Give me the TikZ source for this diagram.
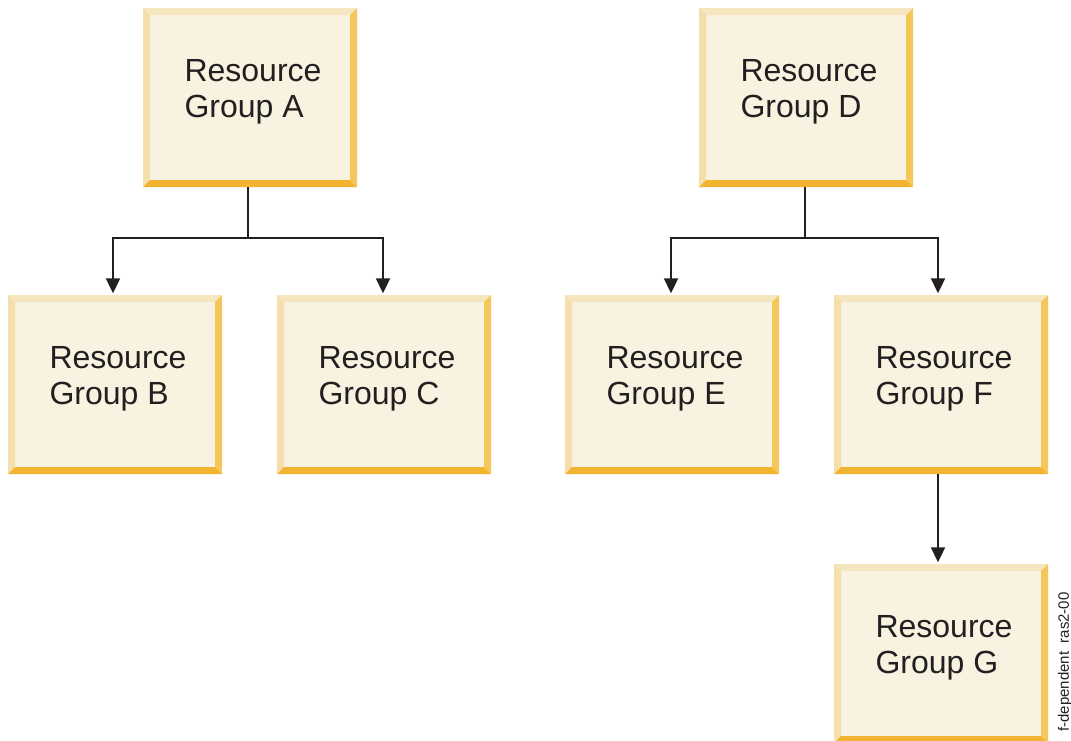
\documentclass[tikz,border=0pt]{standalone}
\usepackage{fontspec}
\setmainfont{Liberation Sans}
\usetikzlibrary{arrows.meta}
\definecolor{face}{HTML}{F8F2E1}
\definecolor{bvtop}{HTML}{F5E6C0}
\definecolor{bvleft}{HTML}{F4DFAA}
\definecolor{bvright}{HTML}{F5C75A}
\definecolor{bvbot}{HTML}{F2B430}
\definecolor{ink}{HTML}{231F20}
\tikzset{
  rg/.style={minimum width=214pt, minimum height=179pt, inner sep=0pt, fill=face,
    path picture={
      \coordinate (nw) at (path picture bounding box.north west);
      \coordinate (ne) at (path picture bounding box.north east);
      \coordinate (sw) at (path picture bounding box.south west);
      \coordinate (se) at (path picture bounding box.south east);
      \fill[bvtop] (nw) -- (ne) -- ([shift={(-7pt,-7pt)}]ne) -- ([shift={(7pt,-7pt)}]nw) -- cycle;
      \fill[bvleft] (nw) -- ([shift={(7pt,-7pt)}]nw) -- ([shift={(7pt,7pt)}]sw) -- (sw) -- cycle;
      \fill[bvright] (ne) -- (se) -- ([shift={(-7pt,7pt)}]se) -- ([shift={(-7pt,-7pt)}]ne) -- cycle;
      \fill[bvbot] (sw) -- (se) -- ([shift={(-7pt,7pt)}]se) -- ([shift={(7pt,7pt)}]sw) -- cycle;
    }},
  lbl/.style={inner sep=0pt, align=left, text=ink, font=\fontsize{32}{36}\selectfont},
  conn/.style={draw=ink, line width=2pt},
  arr/.style={conn, -{Triangle[length=15pt,width=14pt]}, shorten >=1.5pt},
}
\begin{document}
\begin{tikzpicture}[x=1pt,y=-1pt]
\useasboundingbox (0,0) rectangle (1071,740);
\node[rg] (A) at (250,97.5) {};
\node[rg] (D) at (806,97.5) {};
\node[rg] (B) at (115,384.5) {};
\node[rg] (C) at (384,384.5) {};
\node[rg] (E) at (672,384.5) {};
\node[rg] (F) at (941,384.5) {};
\node[rg] (G) at (941,653.5) {};
\node[lbl] (tA) at ([shift={(3pt,6pt)}]A.center) {Resource\\Group A};
\node[lbl] (tD) at ([shift={(3pt,6pt)}]D.center) {Resource\\Group D};
\node[lbl] (tB) at ([shift={(3pt,6pt)}]B.center) {Resource\\Group B};
\node[lbl] (tC) at ([shift={(3pt,6pt)}]C.center) {Resource\\Group C};
\node[lbl] (tE) at ([shift={(3pt,6pt)}]E.center) {Resource\\Group E};
\node[lbl] (tF) at ([shift={(3pt,6pt)}]F.center) {Resource\\Group F};
\node[lbl] (tG) at ([shift={(3pt,6pt)}]G.center) {Resource\\Group G};
\coordinate (jA) at (248,238);
\coordinate (jD) at (805,238);
\draw[conn] ([xshift=-2pt]A.south) -- (jA);
\draw[arr] (jA) -| ([xshift=-2pt]B.north);
\draw[arr] (jA) -| ([xshift=-1pt]C.north);
\draw[conn] ([xshift=-1pt]D.south) -- (jD);
\draw[arr] (jD) -| ([xshift=-1pt]E.north);
\draw[arr] (jD) -| ([xshift=-3pt]F.north);
\draw[arr] ([xshift=-3pt]F.south) -- ([xshift=-3pt]G.north);
\node[rotate=90, inner sep=0pt, text=ink, font=\fontsize{15}{18}\selectfont] (tag) at (1065,662) {f-dependent\ \ ras2-00};
\end{tikzpicture}
\end{document}
